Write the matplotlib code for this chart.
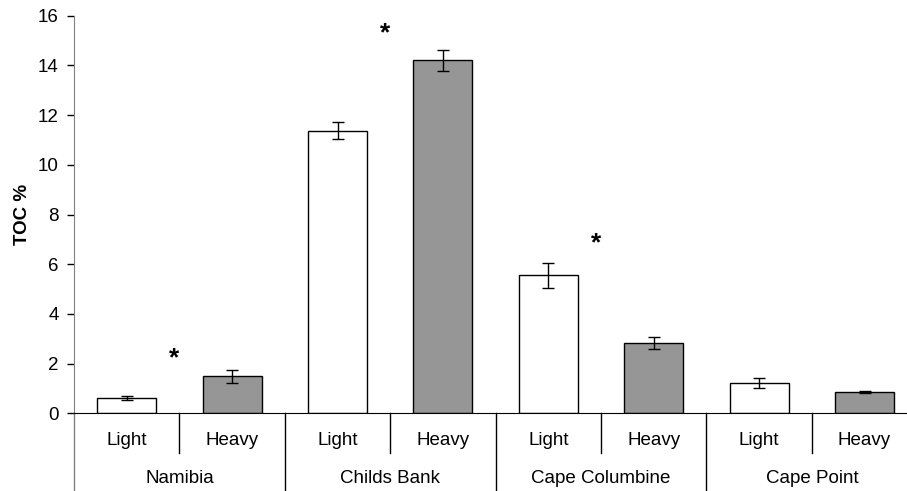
import numpy as np
import matplotlib
matplotlib.use("Agg")
import matplotlib.pyplot as plt
from matplotlib.transforms import blended_transform_factory

plt.rcParams["font.family"] = ["Liberation Sans", "DejaVu Sans"]
plt.rcParams["font.size"] = 13.5

sites = ["Namibia", "Childs Bank", "Cape Columbine", "Cape Point"]
fractions = ["Light", "Heavy"]
toc = [0.63, 1.50, 11.37, 14.20, 5.55, 2.82, 1.24, 0.86]
toc_err = [0.08, 0.26, 0.35, 0.43, 0.50, 0.24, 0.20, 0.04]
# significance markers: site index -> height of the asterisk
sig_sites = [0, 1, 2]
sig_heights = [2.2, 15.3, 6.85]

fig = plt.figure(figsize=(9.07, 4.91), dpi=100)
# plot area runs a little past the right edge of the figure
ax = fig.add_axes([0.0816, 0.158, 0.9297, 0.810])

x = np.arange(len(toc))
colors = ["white", "#969696"] * len(sites)
ax.bar(x, toc, width=0.56, color=colors, edgecolor="black", linewidth=1.0, zorder=2)
ax.errorbar(x, toc, yerr=toc_err, fmt="none", ecolor="black", elinewidth=1.0,
            capsize=4, capthick=1.0, zorder=3)

for i, h in zip(sig_sites, sig_heights):
    ax.text(2 * i + 0.5 - 0.05, h, "*", ha="center", va="center",
            fontsize=19, fontweight="bold")

ax.set_xlim(-0.5, len(toc) - 0.5)
ax.set_ylim(0, 16)
ax.set_yticks(np.arange(0, 17, 2))
ax.set_xticks([])
ax.set_ylabel("TOC %", fontweight="bold", labelpad=5)
ax.tick_params(axis="y", direction="out", length=5, width=1, pad=6)

for side in ["top", "right"]:
    ax.spines[side].set_visible(False)
ax.spines["left"].set_color("#808080")
ax.spines["bottom"].set_color("black")

# two-level category axis drawn below the plot
trans = blended_transform_factory(ax.transData, ax.transAxes)
for i in range(len(toc)):
    ax.text(x[i], -0.068, fractions[i % 2], transform=trans, ha="center", va="center")
for j, site in enumerate(sites):
    ax.text(2 * j + 0.5, -0.163, site, transform=trans, ha="center", va="center")
for b in np.arange(0.5, len(toc), 2):
    ax.plot([b, b], [0, -0.10], transform=trans, color="black", lw=1, clip_on=False)
for b in np.arange(-0.5, len(toc), 2):
    ax.plot([b, b], [0, -0.2], transform=trans,
            color="#808080" if b < 0 else "black", lw=1, clip_on=False)

fig.savefig("out.png", dpi=100)
